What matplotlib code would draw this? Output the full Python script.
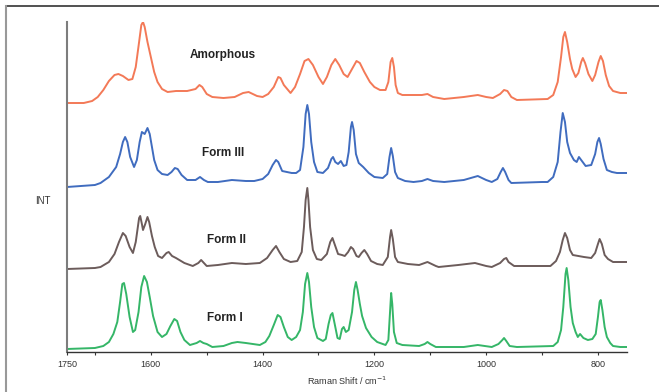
import matplotlib
matplotlib.use("Agg")
import matplotlib.pyplot as plt
from matplotlib.lines import Line2D
from matplotlib.ticker import FixedLocator

plt.rcParams["font.family"] = ["Liberation Sans", "DejaVu Sans"]

# Raman shift (cm-1) and intensity (arbitrary units)
amorph_w = [1750, 1720, 1705, 1695, 1685, 1675, 1665, 1658, 1650, 1640, 1633, 1627,
            1621, 1617, 1614, 1611, 1606, 1600, 1594, 1588, 1580, 1570, 1555, 1535,
            1520, 1513, 1508, 1500, 1490, 1470, 1450, 1435, 1425, 1410, 1400, 1390,
            1380, 1372, 1368, 1362, 1350, 1342, 1333, 1325, 1318, 1310, 1300, 1292,
            1285, 1277, 1270, 1263, 1255, 1248, 1240, 1232, 1226, 1218, 1208, 1200,
            1190, 1180, 1175, 1171, 1168, 1165, 1162, 1158, 1150, 1115, 1105, 1095,
            1075, 1040, 1015, 1000, 988, 975, 968, 962, 955, 945, 890, 880,
            872, 866, 862, 859, 855, 850, 846, 840, 835, 830, 827, 823,
            817, 810, 805, 799, 795, 791, 786, 780, 773, 760, 748]
amorph_i = [4, 4, 6, 10, 17, 26, 32, 33, 31, 27, 28, 40,
            65, 82, 85, 80, 65, 50, 35, 25, 18, 15, 16, 16,
            18, 22, 20, 13, 10, 9, 10, 14, 15, 11, 10, 13,
            20, 30, 29, 22, 14, 20, 33, 46, 48, 42, 30, 23,
            30, 42, 48, 42, 33, 30, 38, 46, 44, 35, 25, 20,
            17, 17, 25, 45, 49, 40, 22, 14, 12, 12, 13, 10,
            8, 10, 12, 10, 9, 13, 17, 16, 10, 7, 8, 12,
            25, 50, 70, 75, 65, 48, 38, 30, 34, 45, 49, 44,
            33, 26, 32, 45, 51, 46, 32, 21, 16, 14, 14]

form3_w = [1750, 1700, 1690, 1675, 1662, 1655, 1650, 1646, 1642, 1637, 1630, 1625,
           1620, 1616, 1611, 1606, 1602, 1598, 1594, 1588, 1580, 1570, 1563, 1557,
           1552, 1545, 1535, 1520, 1512, 1505, 1498, 1480, 1455, 1430, 1415, 1400,
           1390, 1382, 1376, 1372, 1365, 1348, 1340, 1333, 1327, 1323, 1320, 1317,
           1313, 1308, 1302, 1292, 1283, 1277, 1274, 1270, 1265, 1260, 1255, 1250,
           1246, 1242, 1240, 1237, 1233, 1228, 1220, 1210, 1200, 1185, 1177, 1173,
           1170, 1167, 1163, 1158, 1145, 1130, 1115, 1105, 1095, 1075, 1040, 1015,
           1000, 990, 980, 974, 970, 966, 960, 955, 900, 890, 880, 872,
           867, 863, 859, 855, 850, 843, 838, 834, 830, 822, 812, 805,
           801, 798, 795, 790, 784, 775, 766, 748]
form3_i = [5, 7, 9, 15, 25, 38, 50, 55, 50, 35, 25, 32,
           50, 60, 58, 64, 58, 45, 32, 22, 18, 17, 20, 24,
           23, 17, 12, 12, 15, 12, 10, 10, 12, 11, 11, 13,
           18, 27, 32, 30, 21, 19, 19, 22, 45, 78, 87, 78,
           50, 30, 20, 19, 24, 33, 35, 30, 28, 31, 26, 27,
           40, 65, 70, 62, 38, 29, 25, 19, 15, 14, 18, 35,
           44, 36, 20, 14, 11, 10, 11, 13, 11, 10, 12, 16,
           12, 10, 13, 20, 24, 20, 12, 9, 10, 10, 15, 30,
           60, 79, 70, 50, 39, 32, 30, 35, 32, 26, 27, 38,
           50, 54, 48, 33, 22, 20, 19, 19]

form2_w = [1750, 1700, 1690, 1675, 1665, 1657, 1650, 1645, 1638, 1632, 1627, 1621,
           1619, 1616, 1614, 1610, 1606, 1603, 1598, 1593, 1587, 1580, 1572, 1568,
           1562, 1555, 1540, 1525, 1515, 1510, 1505, 1500, 1480, 1455, 1430, 1405,
           1392, 1382, 1376, 1370, 1362, 1350, 1338, 1330, 1326, 1323, 1320, 1318,
           1315, 1310, 1303, 1295, 1285, 1279, 1275, 1270, 1265, 1258, 1253, 1247,
           1242, 1238, 1232, 1228, 1223, 1218, 1213, 1206, 1195, 1185, 1176, 1172,
           1170, 1167, 1163, 1158, 1140, 1120, 1105, 1090, 1085, 1050, 1020, 1000,
           990, 975, 968, 964, 960, 950, 945, 900, 885, 875, 868, 863,
           859, 855, 850, 845, 835, 825, 812, 805, 800, 797, 793, 788,
           782, 773, 760, 748]
form2_i = [3, 4, 5, 10, 18, 30, 39, 36, 25, 19, 30, 54,
           56, 48, 42, 48, 55, 50, 36, 25, 16, 14, 19, 20,
           16, 14, 9, 6, 9, 12, 9, 6, 7, 9, 8, 9,
           14, 22, 26, 20, 13, 10, 11, 20, 45, 72, 84, 72,
           45, 22, 13, 12, 18, 30, 34, 26, 18, 17, 16, 20,
           25, 23, 16, 15, 19, 22, 18, 11, 8, 7, 15, 35,
           42, 33, 15, 10, 8, 7, 10, 6, 5, 7, 9, 6,
           5, 9, 13, 14, 10, 6, 6, 6, 6, 11, 20, 32,
           39, 34, 22, 17, 16, 15, 14, 19, 28, 33, 28, 17,
           13, 10, 10, 10]

form1_w = [1750, 1700, 1685, 1675, 1667, 1660, 1655, 1651, 1648, 1644, 1638, 1632,
           1628, 1622, 1617, 1612, 1607, 1602, 1596, 1588, 1580, 1572, 1565, 1558,
           1553, 1547, 1540, 1530, 1518, 1512, 1506, 1500, 1490, 1470, 1455, 1445,
           1430, 1405, 1395, 1388, 1380, 1373, 1368, 1362, 1355, 1348, 1340, 1333,
           1328, 1324, 1320, 1317, 1313, 1308, 1302, 1292, 1287, 1282, 1278, 1275,
           1271, 1266, 1262, 1258, 1255, 1251, 1246, 1240, 1236, 1233, 1230, 1226,
           1222, 1215, 1205, 1195, 1180, 1175, 1172, 1170, 1168, 1165, 1160, 1150,
           1120, 1110, 1105, 1100, 1090, 1040, 1015, 990, 978, 971, 968, 964,
           958, 945, 880, 872, 866, 862, 858, 856, 853, 849, 845, 840,
           836, 832, 826, 818, 810, 804, 800, 797, 795, 792, 788, 784,
           778, 773, 760, 748]
form1_i = [3, 4, 6, 10, 18, 30, 50, 68, 69, 58, 35, 20,
           22, 40, 65, 76, 70, 55, 36, 20, 15, 18, 26, 33,
           31, 20, 12, 7, 9, 11, 9, 8, 5, 6, 9, 10,
           9, 7, 10, 16, 27, 37, 35, 25, 15, 12, 15, 22,
           40, 68, 79, 70, 45, 25, 14, 11, 13, 28, 37, 39,
           28, 14, 13, 23, 25, 20, 22, 40, 62, 70, 62, 48,
           36, 24, 15, 10, 7, 12, 40, 59, 48, 20, 9, 7,
           6, 8, 10, 8, 5, 5, 7, 5, 8, 12, 14, 11,
           6, 5, 6, 10, 22, 45, 78, 84, 72, 45, 29, 20,
           15, 18, 14, 12, 13, 18, 35, 50, 52, 42, 25, 15,
           9, 6, 5, 5]

names = ["Amorphous", "Form III", "Form II", "Form I"]
colors = ["#f26b45", "#2b5cb8", "#5c4a49", "#1fae57"]
offsets = [245, 160, 80, 0]

fig = plt.figure(figsize=(6.59, 3.92), dpi=100)
ax = fig.add_axes([67 / 659, 40 / 392, 560 / 659, 330 / 392])

spectra = [(amorph_w, amorph_i), (form3_w, form3_i), (form2_w, form2_i), (form1_w, form1_i)]
for (w, inten), col, off in zip(spectra, colors, offsets):
    ax.plot(w, [v + off for v in inten], color=col, lw=1.4, alpha=0.9,
            solid_joinstyle="round", solid_capstyle="round")

label_pos = [(1471, 297), (1471, 199), (1464, 112), (1467, 34)]
for name, (lx, ly) in zip(names, label_pos):
    ax.text(lx, ly, name, ha="center", va="center", fontsize=8.5,
            fontweight="bold", color="#222222")

ax.set_xlim(1750, 748)
ax.set_ylim(0, 330)

ax.xaxis.set_major_locator(FixedLocator([1750, 1600, 1400, 1200, 1000, 800]))
ax.xaxis.set_minor_locator(FixedLocator([1700, 1500, 1300, 1100, 900]))
ax.tick_params(axis="x", which="both", direction="out", length=2.5, width=0.8,
               labelsize=6.5, pad=3, colors="#333333")
ax.set_yticks([])
for s in ["top", "right"]:
    ax.spines[s].set_visible(False)
ax.spines["bottom"].set_color("#333333")
ax.spines["bottom"].set_linewidth(1.0)
ax.spines["left"].set_color("#7d7d7d")
ax.spines["left"].set_linewidth(1.5)

ax.set_xlabel(r"Raman Shift / cm$^{-1}$", fontsize=6.5, color="#333333", labelpad=4.5)
ax.text(-0.043, 0.458, "INT", transform=ax.transAxes, ha="center", va="center",
        fontsize=7, color="#333333")

# page frame
fig.add_artist(Line2D([6 / 659, 1], [1 - 6 / 392, 1 - 6 / 392], color="#333333", lw=1.2))
fig.add_artist(Line2D([6 / 659, 6 / 659], [0, 1 - 6 / 392], color="#999999", lw=1.5))

fig.savefig("out.png", dpi=100)
